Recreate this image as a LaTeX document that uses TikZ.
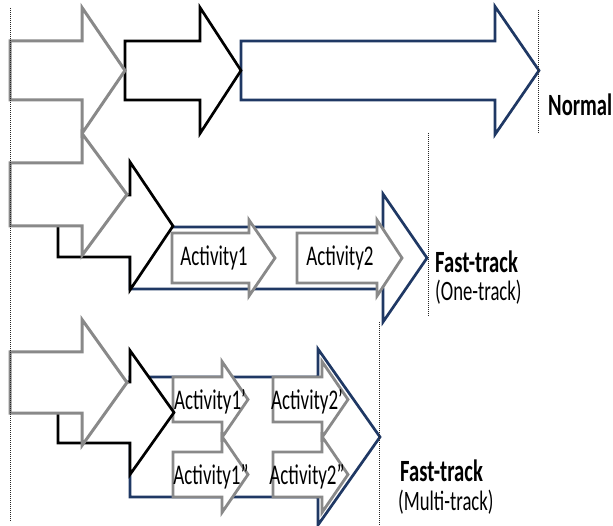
\documentclass[tikz,border=0pt]{standalone}
\usepackage{fontspec}
\setmainfont{Carlito}
\usepackage{graphicx}
\usetikzlibrary{positioning}
\definecolor{stagegray}{RGB}{137,137,137}
\definecolor{stagenavy}{RGB}{31,56,100}
\tikzstyle{grayarrow} = [draw=stagegray, line width=3pt, fill=white, line join=miter]
\tikzstyle{blackarrow} = [draw=black, line width=2.7pt, fill=white, line join=miter]
\tikzstyle{bluearrow} = [draw=stagenavy, line width=2.7pt, fill=white, line join=miter]
\tikzstyle{actarrow} = [draw=stagegray, line width=2.8pt, fill=white, line join=miter]
\tikzstyle{guide} = [draw=black!85, line width=1pt, densely dotted]
\tikzstyle{track} = [font=\bfseries\fontsize{20.6}{22}\selectfont, anchor=west, inner sep=0pt]
\tikzstyle{sub} = [font=\fontsize{18.7}{20}\selectfont, anchor=west, inner sep=0pt]
\tikzstyle{act} = [font=\fontsize{19}{20}\selectfont, inner sep=0pt]
\newcommand{\tall}[1]{\scalebox{1}[1.5]{#1}}
% block arrow: style, left, top, bottom, head base, half head, tip
\newcommand{\blockarrow}[7]{\draw[#1] (#2,#3) -- (#5,#3) -- (#5,{(#3+#4)/2-#6}) -- (#7,{(#3+#4)/2}) -- (#5,{(#3+#4)/2+#6}) -- (#5,#4) -- (#2,#4) -- cycle;}

\begin{document}
\begin{tikzpicture}[x=1pt, y=-1pt]
    \useasboundingbox (0,0) rectangle (613,526);
    % third stage
    \blockarrow{bluearrow}{241}{41}{100}{495}{64}{539}
    \blockarrow{bluearrow}{130}{227}{289}{383}{64}{427}
    \blockarrow{bluearrow}{130}{377}{497}{318}{88}{380}
    % activities
    \blockarrow{actarrow}{172}{233}{283}{249}{38}{275}
    \blockarrow{actarrow}{297}{233}{283}{377}{38}{402}
    \blockarrow{actarrow}{173}{377}{422}{222}{38}{248}
    \blockarrow{actarrow}{173}{452}{497}{222}{38}{248}
    \blockarrow{actarrow}{273}{377}{422}{322}{38}{348}
    \blockarrow{actarrow}{273}{452}{497}{322}{38}{348}
    % second stage
    \blockarrow{blackarrow}{125}{41}{100}{200}{63}{241}
    \blockarrow{blackarrow}{58}{195}{257}{130}{64}{173}
    \blockarrow{blackarrow}{58}{382}{443}{130}{62}{174}
    % first stage
    \blockarrow{grayarrow}{10}{41}{100}{82}{63}{125}
    \blockarrow{grayarrow}{10}{163}{226}{82}{61}{127}
    \blockarrow{grayarrow}{10}{352}{413}{82}{63}{127}
    % end lines
    \coordinate (start top) at (10,8);
    \coordinate (start bottom) at (10,522);
    \coordinate (normal top) at (538,10);
    \coordinate (normal bottom) at (538,133);
    \coordinate (one top) at (428,133);
    \coordinate (one bottom) at (428,317);
    \coordinate (multi top) at (379,322);
    \coordinate (multi bottom) at (379,526);
    \path[guide] (start top) -- (start bottom);
    \path[guide] (normal top) -- (normal bottom);
    \path[guide] (one top) -- (one bottom);
    \path[guide] (multi top) -- (multi bottom);
    % labels
    \node[act] (act1) at (214,258) {\tall{Activity1}};
    \node[act] (act2) at (340,258) {\tall{Activity2}};
    \node[act] (act1a) at (210,402) {\tall{Activity1’}};
    \node[act] (act1b) at (211,477) {\tall{Activity1”}};
    \node[act] (act2a) at (307,402) {\tall{Activity2’}};
    \node[act] (act2b) at (307,477) {\tall{Activity2”}};
    \node[track] (normal) at (548,105) {\tall{Normal}};
    \node[track] (fastone) at (435,262) {\tall{Fast-track}};
    \node[sub] (onetrack) at (435,292) {\tall{(One-track)}};
    \node[track] (fastmulti) at (400,471) {\tall{Fast-track}};
    \node[sub] (multitrack) at (398,502) {\tall{(Multi-track)}};
\end{tikzpicture}
\end{document}
